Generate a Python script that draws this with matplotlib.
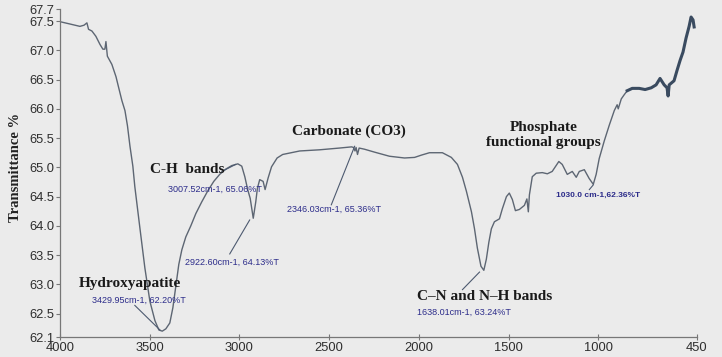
import matplotlib
matplotlib.use("Agg")
import matplotlib.pyplot as plt

# FTIR spectrum (cm-1, %T)
wavenumber = [4000, 3944, 3889, 3866, 3850, 3841, 3822, 3800, 3777, 3761,
              3750, 3744, 3736, 3711, 3688, 3672, 3655, 3638, 3624, 3610,
              3594, 3583, 3555, 3527, 3499, 3471, 3449, 3430, 3410, 3388,
              3371, 3354, 3338, 3321, 3299, 3271, 3243, 3210, 3176, 3143,
              3110, 3076, 3043, 3009, 2987, 2970, 2954, 2940, 2923, 2909,
              2900, 2887, 2868, 2857, 2840, 2821, 2790, 2759, 2664, 2553,
              2442, 2375, 2364, 2356, 2350, 2342, 2333, 2303, 2247, 2164,
              2080, 2024, 1985, 1941, 1869, 1819, 1785, 1757, 1735, 1707,
              1690, 1674, 1654, 1638, 1624, 1610, 1596, 1579, 1551, 1535,
              1512, 1496, 1479, 1462, 1440, 1412, 1398, 1390, 1384, 1368,
              1346, 1312, 1284, 1257, 1220, 1201, 1173, 1145, 1123, 1106,
              1078, 1051, 1028, 1012, 995, 967, 939, 911, 895, 889,
              872, 856, 839]
transmittance = [67.49, 67.45, 67.41, 67.43, 67.47, 67.36, 67.33, 67.24, 67.10, 67.02,
                 67.02, 67.15, 66.90, 66.76, 66.55, 66.35, 66.14, 65.97, 65.71, 65.36,
                 65.02, 64.67, 63.97, 63.28, 62.71, 62.38, 62.22, 62.20, 62.24, 62.34,
                 62.60, 62.98, 63.34, 63.59, 63.81, 64.00, 64.21, 64.41, 64.60, 64.76,
                 64.88, 64.97, 65.03, 65.06, 65.02, 64.84, 64.62, 64.47, 64.13, 64.41,
                 64.64, 64.79, 64.76, 64.62, 64.82, 65.01, 65.16, 65.22, 65.28, 65.30,
                 65.33, 65.35, 65.34, 65.28, 65.34, 65.22, 65.33, 65.31, 65.26, 65.19,
                 65.16, 65.17, 65.21, 65.25, 65.25, 65.17, 65.05, 64.83, 64.59, 64.24,
                 63.95, 63.62, 63.31, 63.24, 63.43, 63.72, 63.95, 64.07, 64.12, 64.29,
                 64.50, 64.56, 64.45, 64.26, 64.28, 64.35, 64.46, 64.24, 64.53, 64.84,
                 64.90, 64.91, 64.89, 64.93, 65.10, 65.05, 64.88, 64.93, 64.83, 64.93,
                 64.96, 64.81, 64.71, 64.88, 65.15, 65.45, 65.72, 65.97, 66.07, 66.00,
                 66.17, 66.24, 66.31]

# noisy fingerprint tail
tail_wn = [839, 811, 772, 739, 705, 678, 656, 633, 617, 611,
           605, 578, 561, 544, 528, 511, 494, 483, 472, 466]
tail_t = [66.31, 66.35, 66.35, 66.33, 66.36, 66.41, 66.52, 66.41, 66.36, 66.22,
          66.41, 66.48, 66.66, 66.83, 66.97, 67.21, 67.41, 67.57, 67.52, 67.40]

x_ticks = [4000, 3500, 3000, 2500, 2000, 1500, 1000, 450]
y_ticks = [62.1, 62.5, 63.0, 63.5, 64.0, 64.5, 65.0, 65.5, 66.0, 66.5, 67.0, 67.5, 67.7]

bg = "#ebebeb"
fig = plt.figure(figsize=(7.22, 3.57), dpi=100, facecolor=bg)
ax = fig.add_axes([60 / 722, 1 - 337 / 357, 637 / 722, 327.6 / 357])
ax.set_facecolor(bg)

ax.plot(wavenumber, transmittance, color="#5d6673", lw=1.0)
ax.plot(tail_wn, tail_t, color="#3a4b60", lw=2.2, solid_joinstyle="round")

ax.set_xlim(4000, 450)
ax.set_ylim(62.1, 67.7)
ax.set_xticks(x_ticks)
ax.set_yticks(y_ticks)
ax.set_yticklabels(["%.1f" % v for v in y_ticks])
for s in ["top", "right"]:
    ax.spines[s].set_visible(False)
for s in ["left", "bottom"]:
    ax.spines[s].set_color("#777777")
    ax.spines[s].set_linewidth(0.9)
ax.tick_params(axis="y", direction="out", length=3, color="#777777",
               labelsize=9.3, labelcolor="#2e2e2e", pad=1)
ax.tick_params(axis="x", direction="inout", length=5, color="#777777",
               labelsize=9.3, labelcolor="#2e2e2e", pad=1)
for lab in ax.get_xticklabels() + ax.get_yticklabels():
    lab.set_family("Liberation Sans")

fig.text(16 / 722, 1 - 167 / 357, "Transmittance %", rotation=90, ha="center",
         va="center", family="Liberation Serif", weight="bold", fontsize=10.5,
         color="#222222")

head = dict(family="Liberation Serif", weight="bold", fontsize=11, color="#1a1a1a")
small = dict(family="Liberation Sans", fontsize=6.5, color="#2c2c8a")
lead = dict(color="#4d5a70", lw=0.8)

ax.text(3894, 63.02, "Hydroxyapatite", ha="left", va="center", **head)
ax.text(3822, 62.72, "3429.95cm-1, 62.20%T", ha="left", va="center", **small)
ax.plot([3583, 3443], [62.64, 62.22], **lead)

ax.text(3499, 64.96, "C-H  bands", ha="left", va="center", **head)
ax.plot([3098, 3021], [64.93, 65.05], **lead)
ax.text(3399, 64.62, "3007.52cm-1, 65.06%T", ha="left", va="center", **small)

ax.text(3304, 63.38, "2922.60cm-1, 64.13%T", ha="left", va="center", **small)
ax.plot([3054, 2943], [63.52, 64.10], **lead)

ax.text(2709, 65.62, "Carbonate (CO3)", ha="left", va="center", **head)
ax.text(2737, 64.28, "2346.03cm-1, 65.36%T", ha="left", va="center", **small)
ax.plot([2488, 2358], [64.36, 65.36], **lead)

ax.text(1306, 65.55, "Phosphate\nfunctional groups", ha="center", va="center",
        multialignment="center", linespacing=1.15, **head)
ax.text(1234, 64.53, "1030.0 cm-1,62.36%T", ha="left", va="center",
        family="Liberation Sans", fontsize=6, weight="bold", color="#2c2c8a")
ax.plot([1050, 1028], [64.62, 64.70], **lead)

ax.text(2008, 62.79, "C\u2013N and N\u2013H bands", ha="left", va="center", **head)
ax.text(2013, 62.52, "1638.01cm-1, 63.24%T", ha="left", va="center", **small)
ax.plot([1757, 1662], [62.91, 63.21], **lead)

fig.savefig("out.png", dpi=100, facecolor=bg)
